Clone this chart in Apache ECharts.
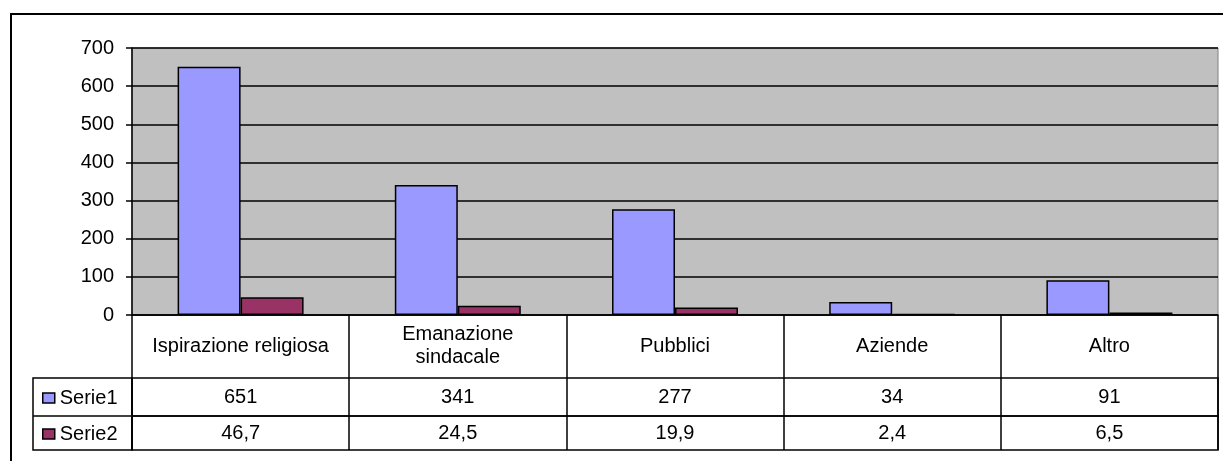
<!DOCTYPE html>
<html>
<head>
<meta charset="utf-8">
<style>
  html, body { margin: 0; padding: 0; background: #fff; }
  #chart { width: 1223px; height: 461px; }
</style>
<script src="https://cdn.jsdelivr.net/npm/echarts@6/dist/echarts.min.js"></script>
</head>
<body>
<div id="chart"></div>
<script>
var categories = ["Ispirazione religiosa", "Emanazione\nsindacale", "Pubblici", "Aziende", "Altro"];
var serie1 = [651, 341, 277, 34, 91];
var serie2 = [46.7, 24.5, 19.9, 2.4, 6.5];
var seriesNames = ["Serie1", "Serie2"];
var yTicks = { min: 0, max: 700, interval: 100 };

var font = "'Liberation Sans', Arial, sans-serif";
var black = "#000";

// table cells show decimals with a comma
function fmt(v) {
  return String(v).replace(".", ",");
}

// one hidden value axis per table row grid
function rowYAxis(idx) {
  return { type: "value", gridIndex: idx, show: false };
}

// x axis that prints one table row inside its grid
function rowXAxis(idx, values, margin) {
  return {
    type: "category",
    gridIndex: idx,
    data: values.map(fmt),
    axisLine: { show: false },
    axisTick: { show: false },
    axisLabel: {
      inside: true,
      interval: 0,
      margin: margin,
      verticalAlign: "middle",
      color: black,
      fontSize: 20,
      fontFamily: font
    },
    splitLine: { show: false }
  };
}

var myChart = echarts.init(document.getElementById("chart"));
var option = {
  animation: false,
  textStyle: { fontFamily: font },
  grid: [
    {
      left: 132, right: 5, top: 48, bottom: 146,
      show: true,
      backgroundColor: "#C0C0C0",
      borderColor: "#808080",
      borderWidth: 1,
      outerBoundsMode: "none"
    },
    {
      left: 132, right: 5, top: 378, height: 38,
      show: true, backgroundColor: "transparent",
      borderColor: black, borderWidth: 1.5,
      outerBoundsMode: "none"
    },
    {
      left: 132, right: 5, top: 416, height: 34,
      show: true, backgroundColor: "transparent",
      borderColor: black, borderWidth: 1.5,
      outerBoundsMode: "none"
    }
  ],
  legend: {
    orient: "vertical",
    left: 37,
    top: 383,
    icon: "rect",
    itemWidth: 12,
    itemHeight: 10,
    itemGap: 16,
    data: seriesNames,
    itemStyle: { borderColor: black, borderWidth: 1.5 },
    textStyle: { color: black, fontSize: 20, lineHeight: 20, fontFamily: font }
  },
  xAxis: [
    {
      type: "category",
      data: categories,
      axisLine: { show: true, lineStyle: { color: black, width: 1.5 } },
      axisTick: { show: true, length: 135, interval: 0, lineStyle: { color: black, width: 1.5 } },
      axisLabel: {
        interval: 0,
        margin: 31,
        verticalAlign: "middle",
        color: black,
        fontSize: 20,
        lineHeight: 23,
        fontFamily: font
      },
      splitLine: { show: false }
    },
    rowXAxis(1, serie1, 19),
    rowXAxis(2, serie2, 17)
  ],
  yAxis: [
    {
      type: "value",
      min: yTicks.min,
      max: yTicks.max,
      interval: yTicks.interval,
      axisLine: { show: true, lineStyle: { color: black, width: 1.5 } },
      axisTick: { show: true, length: 6, lineStyle: { color: black, width: 1.5 } },
      axisLabel: { margin: 18, color: black, fontSize: 20, fontFamily: font },
      splitLine: { show: true, lineStyle: { color: black, width: 1.5 } }
    },
    rowYAxis(1),
    rowYAxis(2)
  ],
  series: [
    {
      name: seriesNames[0],
      type: "bar",
      data: serie1,
      barGap: "0%",
      barCategoryGap: "42%",
      itemStyle: { color: "#9999FF", borderColor: black, borderWidth: 1.5 }
    },
    {
      name: seriesNames[1],
      type: "bar",
      data: serie2,
      itemStyle: { color: "#993366", borderColor: black, borderWidth: 1.5 }
    }
  ],
  graphic: [
    {
      type: "rect",
      z: -1,
      shape: { x: 11, y: 14, width: 1240, height: 470 },
      style: { fill: null, stroke: black, lineWidth: 2 }
    },
    {
      type: "rect",
      shape: { x: 33, y: 378, width: 99, height: 72 },
      style: { fill: null, stroke: black, lineWidth: 1.5 }
    },
    {
      type: "line",
      shape: { x1: 33, y1: 416, x2: 132, y2: 416 },
      style: { stroke: black, lineWidth: 1.5 }
    }
  ]
};
myChart.setOption(option);
</script>
</body>
</html>
